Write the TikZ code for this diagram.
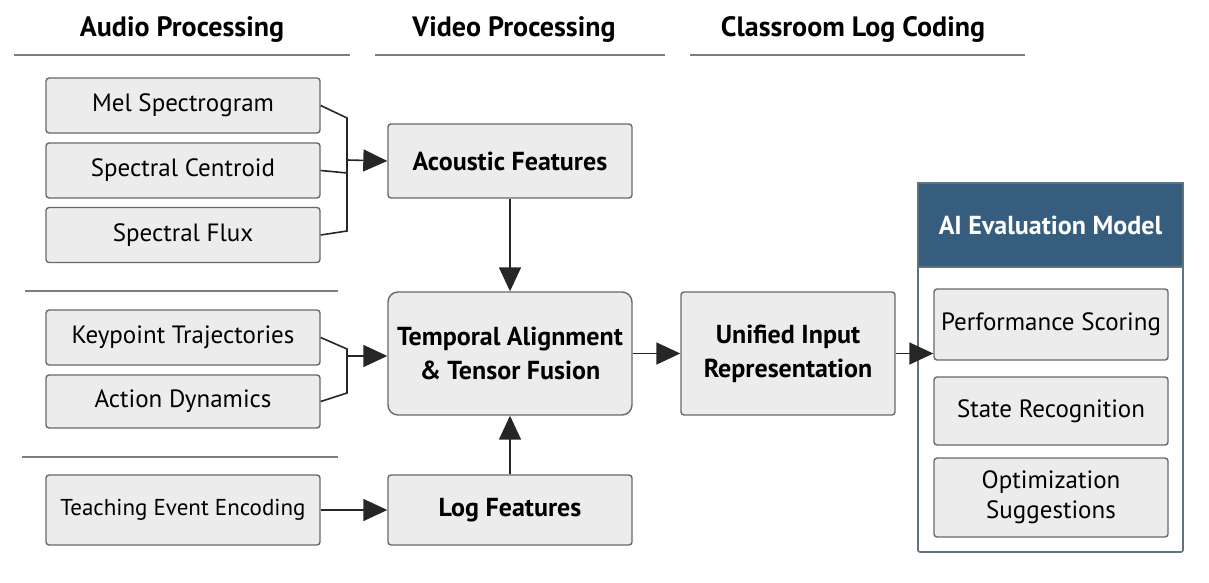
\documentclass[tikz,border=0pt]{standalone}
\usepackage{fontspec}
\setmainfont{PT Sans}
\usepackage{tikz}
\usetikzlibrary{arrows.meta, positioning, calc}
\definecolor{boxfill}{RGB}{236, 236, 236}
\definecolor{boxline}{RGB}{105, 105, 105}
\definecolor{headblue}{RGB}{54, 92, 126}
\definecolor{frameline}{RGB}{95, 115, 125}
\definecolor{ruleline}{RGB}{125, 125, 125}

\begin{document}
\begin{tikzpicture}[
  x=0.5pt, y=-0.5pt,
  featbox/.style={draw=boxline, fill=boxfill, line width=0.7pt, rounded corners=1.5pt, align=center, inner sep=2pt, font=\fontsize{12.5}{15}\selectfont},
  midbox/.style={featbox, minimum width=122pt, font=\fontsize{13}{17}\selectfont\bfseries},
  leftbox/.style={featbox, minimum width=137pt, minimum height=27.5pt},
  evalbox/.style={featbox, minimum width=117pt},
  coltitle/.style={font=\fontsize{14}{16}\selectfont\bfseries, anchor=base},
  conn/.style={line width=0.8pt, draw=black!85},
  flow/.style={conn, -{Triangle[length=12pt, width=11pt]}}
]
  \useasboundingbox (0,0) rectangle (1209,583);

  % column titles
  \node[coltitle] (taudio) at (182,37) {Audio Processing};
  \node[coltitle] (tvideo) at (514,37) {Video Processing};
  \node[coltitle] (tlog) at (853,37) {Classroom Log Coding};
  \draw[ruleline, line width=1pt] (14,55) -- (350,55);
  \draw[ruleline, line width=1pt] (375,55) -- (665,55);
  \draw[ruleline, line width=1pt] (690,55) -- (1025,55);
  \draw[ruleline, line width=1pt] (25,291) -- (338,291);
  \draw[ruleline, line width=1pt] (22,457) -- (338,457);

  % audio
  \node[leftbox] (mel) at (183,105.5) {Mel Spectrogram};
  \node[leftbox] (centroid) at (183,170.5) {Spectral Centroid};
  \node[leftbox] (flux) at (183,235) {Spectral Flux};
  % video
  \node[leftbox] (keypoint) at (183,337.5) {Keypoint Trajectories};
  \node[leftbox, minimum height=26.5pt] (action) at (183,401.5) {Action Dynamics};
  % log
  \node[leftbox, minimum height=35pt, font=\fontsize{11.5}{14}\selectfont] (teaching) at (183,510) {Teaching Event Encoding};

  \node[midbox, minimum height=37pt, font=\fontsize{13}{17}\selectfont\bfseries] (acoustic) at (510,161) {Acoustic Features};
  \node[midbox, minimum height=61.5pt, rounded corners=5pt] (fusion) at (510,353.5) {Temporal Alignment\\\& Tensor Fusion};
  \node[midbox, minimum height=35pt] (logfeat) at (510,510) {Log Features};
  \node[midbox, minimum width=107pt, minimum height=61.5pt] (unified) at (788,353.5) {Unified Input\\Representation};

  % evaluation model
  \node[draw=frameline, fill=white, line width=0.8pt, rounded corners=1pt, minimum width=132.5pt, minimum height=184.5pt] (aimodel) at (1050.5,367.5) {};
  \node[fill=headblue, draw=frameline, line width=0.8pt, minimum width=132.5pt, minimum height=42pt, text=white, font=\fontsize{13}{16}\selectfont\bfseries] (aihead) at (1050.5,225) {AI Evaluation Model};
  \node[evalbox, minimum height=35.5pt] (perf) at (1051,324.5) {Performance Scoring};
  \node[evalbox, minimum height=34pt] (state) at (1051,411) {State Recognition};
  \node[evalbox, minimum height=39.5pt] (optim) at (1051,497.5) {Optimization\\Suggestions};

  % brackets
  \coordinate (atop) at (347,118);
  \coordinate (acen) at (347,173);
  \coordinate (abot) at (347,231);
  \coordinate (amid) at (347,160);
  \draw[conn] (mel.east) -- (atop) -- (abot) -- (flux.east);
  \draw[conn] (centroid.east) -- (acen);
  \draw[flow] (amid) -- (acoustic.west);

  \coordinate (vtop) at (347,349);
  \coordinate (vbot) at (347,393);
  \coordinate (vmid) at (347,356);
  \draw[conn] (keypoint.east) -- (vtop) -- (vbot) -- (action.east);
  \draw[flow] (vmid) -- (vmid -| fusion.west);

  % flows
  \draw[flow] (acoustic.south) -- (fusion.north);
  \draw[flow] (logfeat.north) -- (fusion.south);
  \draw[flow] (teaching.east) -- (logfeat.west);
  \draw[flow] (fusion.east) -- (unified.west);
  \draw[flow] (unified.east) -- (unified.east -| perf.west);
\end{tikzpicture}
\end{document}
